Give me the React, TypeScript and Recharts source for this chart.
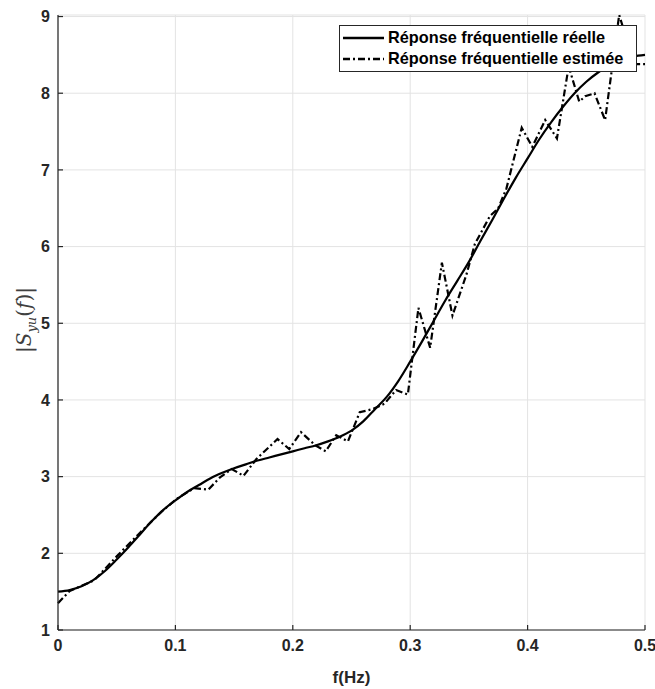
import React from 'react';
import {
    LineChart, Line, XAxis, YAxis, CartesianGrid
} from 'recharts';

// real frequency response (smooth)
const freqTrue = [0, 0.01, 0.02, 0.03, 0.04, 0.05, 0.06, 0.07, 0.08, 0.09, 0.1, 0.11, 0.12, 0.13, 0.14, 0.15, 0.16, 0.17, 0.18, 0.19, 0.2,
    0.21, 0.22, 0.23, 0.24, 0.25, 0.26, 0.27, 0.28, 0.29, 0.3, 0.31, 0.32, 0.33, 0.34, 0.35, 0.36, 0.37, 0.38, 0.39, 0.4,
    0.41, 0.42, 0.43, 0.44, 0.45, 0.46, 0.47, 0.48, 0.49, 0.5];
const magTrue = [1.50, 1.52, 1.57, 1.65, 1.77, 1.92, 2.08, 2.25, 2.42, 2.57, 2.69, 2.80, 2.89, 2.98, 3.05, 3.11, 3.16, 3.21, 3.25, 3.29, 3.33,
    3.37, 3.41, 3.46, 3.52, 3.60, 3.72, 3.88, 4.04, 4.25, 4.50, 4.76, 5.03, 5.30, 5.55, 5.80, 6.08, 6.35, 6.63, 6.90, 7.15,
    7.40, 7.62, 7.82, 8.00, 8.15, 8.27, 8.37, 8.44, 8.48, 8.50];

// estimated frequency response (noisy)
const freqEst = [0, 0.010, 0.031, 0.050, 0.068, 0.088, 0.101, 0.116, 0.128, 0.138, 0.148, 0.158, 0.169, 0.187, 0.197, 0.207,
    0.219, 0.228, 0.237, 0.247, 0.257, 0.268, 0.278, 0.288, 0.298, 0.307, 0.317, 0.327, 0.336, 0.348, 0.355, 0.368, 0.375,
    0.382, 0.395, 0.404, 0.415, 0.425, 0.435, 0.444, 0.449, 0.457, 0.466, 0.478, 0.491, 0.5];
const magEst = [1.35, 1.51, 1.65, 1.96, 2.24, 2.54, 2.71, 2.85, 2.83, 2.99, 3.10, 3.01, 3.23, 3.49, 3.36, 3.58,
    3.41, 3.33, 3.54, 3.46, 3.84, 3.88, 3.95, 4.13, 4.07, 5.20, 4.68, 5.79, 5.10, 5.64, 6.03, 6.40, 6.50,
    6.76, 7.55, 7.30, 7.65, 7.41, 8.35, 7.89, 7.96, 8.00, 7.65, 9.02, 8.38, 8.38];

const xTicks = [0, 0.1, 0.2, 0.3, 0.4, 0.5];
const yTicks = [1, 2, 3, 4, 5, 6, 7, 8, 9];

const trueData = freqTrue.map((f, i) => ({f, v: magTrue[i]}));
const estData = freqEst.map((f, i) => ({f, v: magEst[i]}));

const axisColor = '#262626';
const sans = 'Liberation Sans, Arial, sans-serif';
const tickFont = {fontFamily: sans, fontWeight: 700, fontSize: 16, fill: axisColor};

const LegendBox = () => (
    <div style={{
        position: 'absolute', left: 339, top: 25, width: 293, height: 44,
        border: '1px solid #262626', background: 'white', padding: '1px 0 0 3px',
        fontFamily: sans, fontWeight: 700, fontSize: 16.3, color: '#000',
        lineHeight: '21px', whiteSpace: 'nowrap'
    }}>
        <div style={{display: 'flex', alignItems: 'center'}}>
            <svg width={42} height={10}><line x1={0} y1={5} x2={41} y2={5} stroke="#000" strokeWidth={2.5}/></svg>
            <span style={{marginLeft: 3}}>Réponse fréquentielle réelle</span>
        </div>
        <div style={{display: 'flex', alignItems: 'center'}}>
            <svg width={42} height={10}><line x1={0} y1={5} x2={41} y2={5} stroke="#000" strokeWidth={2.5} strokeDasharray="7 3 2 3"/></svg>
            <span style={{marginLeft: 3}}>Réponse fréquentielle estimée</span>
        </div>
    </div>
);

const YLabel = () => (
    <text x={31} y={320} transform="rotate(-90 31 320)" textAnchor="middle"
          fontFamily="DejaVu Serif, serif" fontStyle="italic" fontSize={20} fill="#404040">
        <tspan fontStyle="normal">|</tspan>S<tspan fontSize={13} dy={5}>yu</tspan>
        <tspan dy={-5} fontStyle="normal">(</tspan>f<tspan fontStyle="normal">)|</tspan>
    </text>
);

const App = () => {
    return (
        <div style={{position: 'absolute', left: 0, top: 0, background: 'white'}}>
            <LineChart width={655} height={689} margin={{top: 15, right: 10, bottom: 0, left: 0}}>
                <CartesianGrid stroke="#e3e3e3" strokeWidth={1}/>
                <XAxis dataKey="f" type="number" domain={[0, 0.5]} ticks={xTicks} allowDuplicatedCategory={false}
                       height={59} tick={tickFont} stroke={axisColor} strokeWidth={1.2}
                       tickSize={-5} tickMargin={15}
                       label={{value: 'f(Hz)', position: 'insideBottom', offset: 6,
                           style: {fontFamily: sans, fontWeight: 700, fontSize: 17, fill: axisColor}}}/>
                <YAxis type="number" domain={[1, 9]} ticks={yTicks} width={58}
                       tick={tickFont} stroke={axisColor} strokeWidth={1.2}
                       tickSize={-5} tickMargin={13}/>
                <Line data={trueData} dataKey="v" type="monotone" stroke="#000" strokeWidth={2.2}
                      dot={false} isAnimationActive={false}/>
                <Line data={estData} dataKey="v" type="linear" stroke="#000" strokeWidth={2.2}
                      strokeDasharray="7 3 2 3" dot={false} isAnimationActive={false}/>
                <YLabel/>
            </LineChart>
            <LegendBox/>
        </div>
    );
};

export default App;
